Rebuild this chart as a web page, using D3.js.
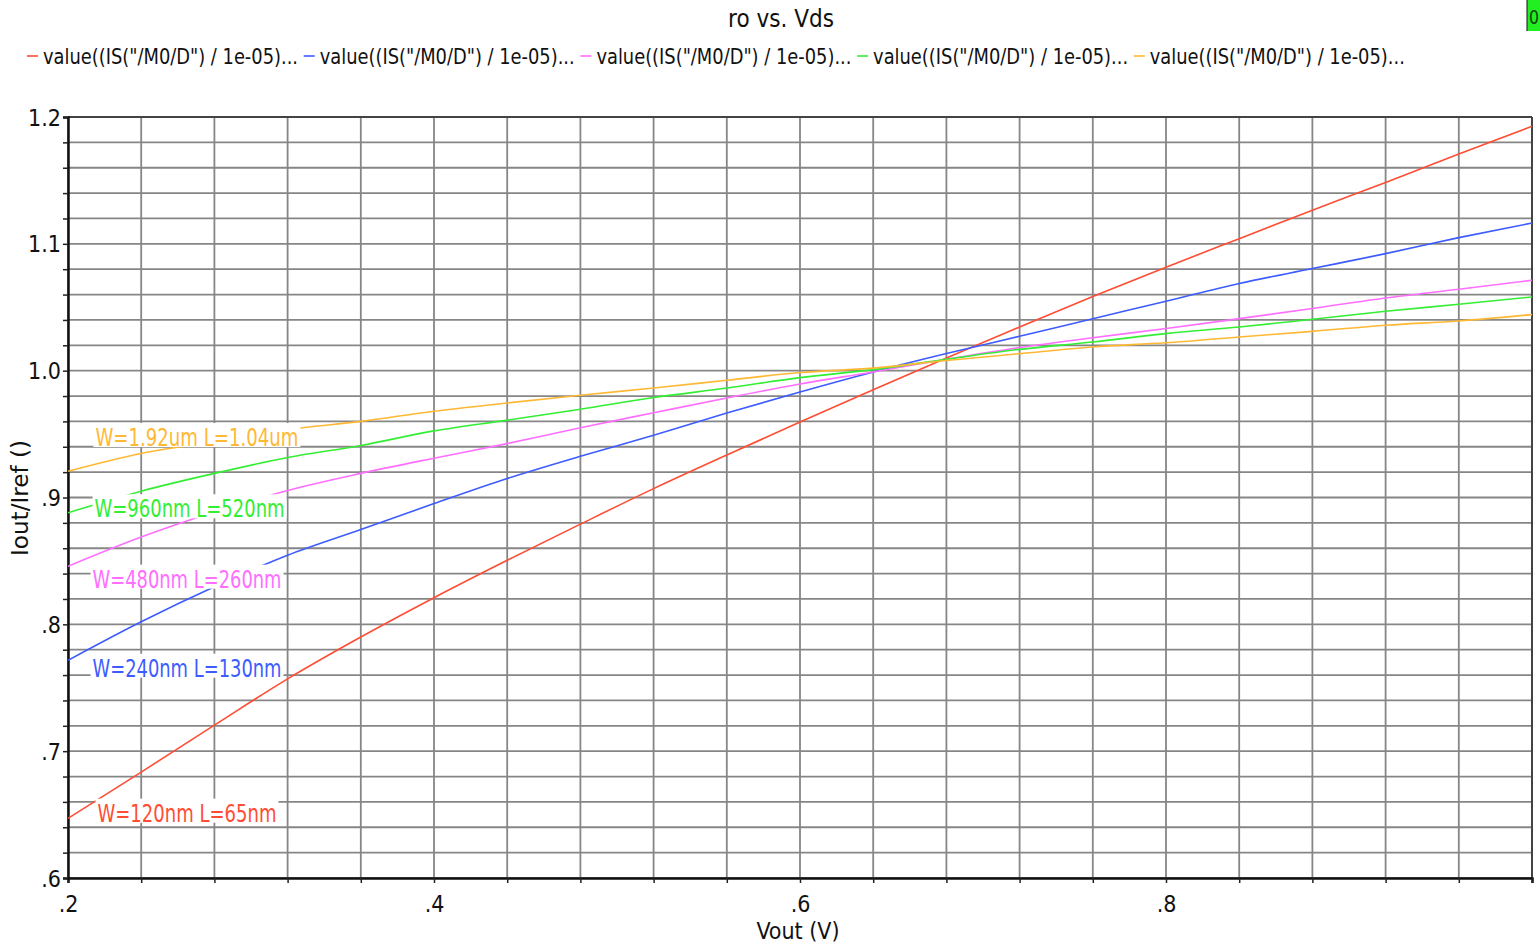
<!DOCTYPE html>
<html>
<head>
<meta charset="utf-8">
<script src="https://cdn.jsdelivr.net/npm/d3@7"></script>
<style>
  html, body { margin: 0; padding: 0; background: #fff; }
  svg { display: block; }
  text { font-family: "Liberation Sans Narrow", "DejaVu Sans Condensed", "Liberation Sans", sans-serif; }
</style>
</head>
<body>
<svg id="chart" width="1540" height="944"></svg>
<script>
// Output voltage sweep (V)
const vout = [0.20, 0.24, 0.28, 0.32, 0.36, 0.40, 0.44, 0.48, 0.52, 0.56, 0.60,
              0.64, 0.68, 0.72, 0.76, 0.80, 0.84, 0.88, 0.92, 0.96, 1.00];

// Iout/Iref for each device size
const ratioW120 = [0.647, 0.6835, 0.7205, 0.757, 0.790, 0.821, 0.8505, 0.879, 0.907, 0.9335, 0.9595,
                   0.985, 1.010, 1.0344, 1.0584, 1.0816, 1.1041, 1.1265, 1.1484, 1.1708, 1.1927];
const ratioW240 = [0.7716, 0.802, 0.8296, 0.8544, 0.8747, 0.8952, 0.915, 0.9325, 0.949, 0.9666, 0.9832,
                   0.999, 1.0135, 1.0271, 1.041, 1.0547, 1.0687, 1.0805, 1.0923, 1.1049, 1.1164];
const ratioW480 = [0.8458, 0.8688, 0.8885, 0.9055, 0.919, 0.931, 0.9425, 0.955, 0.9668, 0.9785, 0.9895,
                   0.999, 1.009, 1.0182, 1.026, 1.0332, 1.041, 1.049, 1.0573, 1.0642, 1.0713];
const ratioW960 = [0.888, 0.905, 0.919, 0.9315, 0.941, 0.9525, 0.961, 0.9696, 0.9788, 0.9863, 0.9945,
                   1.0008, 1.009, 1.0168, 1.0226, 1.0292, 1.0344, 1.0405, 1.0468, 1.0524, 1.0581];
const ratioW1920 = [0.9207, 0.9347, 0.944, 0.9535, 0.960, 0.968, 0.9745, 0.9806, 0.9863, 0.9924, 0.9985,
                    1.002, 1.008, 1.0134, 1.0187, 1.022, 1.0266, 1.031, 1.0358, 1.0392, 1.0442];

const seriesNames = ["W=120nm L=65nm", "W=240nm L=130nm", "W=480nm L=260nm", "W=960nm L=520nm", "W=1.92um L=1.04um"];
const seriesValues = [ratioW120, ratioW240, ratioW480, ratioW960, ratioW1920];
const seriesColors = ["#ff4d33", "#3d5cff", "#ff6eff", "#33ee33", "#ffb833"];
const legendText = "value((IS(\"/M0/D\") / 1e-05)...";

// In-plot label anchors (x in volts, y in Iout/Iref at the text baseline)
const labelX = [0.2161, 0.2134, 0.2134, 0.2145, 0.2150];
const labelY = [0.6444, 0.7587, 0.8289, 0.8844, 0.9406];

// Axis ticks
const xTickValues = [0.2, 0.4, 0.6, 0.8];
const xTickLabels = [".2", ".4", ".6", ".8"];
const yTickValues = [1.2, 1.1, 1.0, 0.9, 0.8, 0.7, 0.6];
const yTickLabels = ["1.2", "1.1", "1.0", ".9", ".8", ".7", ".6"];

const svg = d3.select("#chart");
const W = 1540, H = 944;
const plot = { left: 68, right: 1532, top: 117, bottom: 878 };

const x = d3.scaleLinear().domain([0.2, 1.0]).range([plot.left, plot.right]);
const y = d3.scaleLinear().domain([0.6, 1.2]).range([plot.bottom, plot.top]);

svg.append("rect").attr("width", W).attr("height", H).attr("fill", "#fff");

// Grid: vertical every 0.04 V, horizontal every 0.02
const xGrid = d3.range(0, 21).map(i => +(0.2 + i * 0.04).toFixed(2));
const yGrid = d3.range(0, 31).map(i => +(0.6 + i * 0.02).toFixed(2));

const grid = svg.append("g").attr("class", "grid");
grid.selectAll("line.v").data(xGrid).join("line")
  .attr("class", "v")
  .attr("x1", d => x(d)).attr("x2", d => x(d))
  .attr("y1", plot.top).attr("y2", plot.bottom)
  .attr("stroke", "#868686").attr("stroke-width", 1.8);
grid.selectAll("line.h").data(yGrid).join("line")
  .attr("class", "h")
  .attr("x1", plot.left).attr("x2", plot.right)
  .attr("y1", d => y(d)).attr("y2", d => y(d))
  .attr("stroke", "#868686").attr("stroke-width", 1.8);

// Frame
svg.append("line").attr("x1", plot.left).attr("x2", plot.right).attr("y1", plot.top).attr("y2", plot.top)
  .attr("stroke", "#444").attr("stroke-width", 2);
svg.append("line").attr("x1", plot.right).attr("x2", plot.right).attr("y1", plot.top).attr("y2", plot.bottom)
  .attr("stroke", "#444").attr("stroke-width", 2);

// Axes
const xAxis = d3.axisBottom(x)
  .tickValues(xGrid)
  .tickSize(5)
  .tickFormat(d => {
    const i = xTickValues.findIndex(v => Math.abs(v - d) < 1e-9);
    return i >= 0 ? xTickLabels[i] : "";
  });
const yAxis = d3.axisLeft(y)
  .tickValues(yGrid)
  .tickSize(5)
  .tickFormat(d => {
    const i = yTickValues.findIndex(v => Math.abs(v - d) < 1e-9);
    return i >= 0 ? yTickLabels[i] : "";
  });

const gx = svg.append("g").attr("transform", `translate(0,${plot.bottom})`).call(xAxis);
gx.select(".domain").attr("stroke", "#111").attr("stroke-width", 2.5);
gx.selectAll(".tick line").attr("stroke", "#222").attr("stroke-width", 1.5);
gx.selectAll(".tick text")
  .attr("font-family", "Liberation Sans Narrow, DejaVu Sans Condensed, sans-serif")
  .attr("font-size", 23).attr("fill", "#111").attr("dy", "0.95em").attr("y", 12);

const gy = svg.append("g").attr("transform", `translate(${plot.left},0)`).call(yAxis);
gy.select(".domain").attr("stroke", "#111").attr("stroke-width", 2.5);
gy.selectAll(".tick line").attr("stroke", "#222").attr("stroke-width", 1.5);
gy.selectAll(".tick text")
  .attr("font-family", "Liberation Sans Narrow, DejaVu Sans Condensed, sans-serif")
  .attr("font-size", 23).attr("fill", "#111").attr("x", -7).attr("dy", "0.35em");

// Curves
svg.append("clipPath").attr("id", "plotClip").append("rect")
  .attr("x", plot.left).attr("y", plot.top)
  .attr("width", plot.right - plot.left).attr("height", plot.bottom - plot.top);

const line = d3.line()
  .x((d, i) => x(vout[i]))
  .y(d => y(d))
  .curve(d3.curveMonotoneX);

svg.append("g").attr("clip-path", "url(#plotClip)")
  .selectAll("path").data(seriesValues).join("path")
  .attr("d", d => line(d))
  .attr("fill", "none")
  .attr("stroke", (d, i) => seriesColors[i])
  .attr("stroke-width", 1.6);

// In-plot curve labels on white boxes
const labelWidths = [179, 189, 189, 190, 203];
const labels = svg.append("g");
seriesNames.forEach((name, i) => {
  const tx = x(labelX[i]);
  const ty = y(labelY[i]);
  labels.append("rect")
    .attr("x", tx - 2).attr("y", ty - 23)
    .attr("width", labelWidths[i] + 4).attr("height", 24)
    .attr("fill", "#fff");
  labels.append("text")
    .attr("x", tx).attr("y", ty)
    .attr("font-size", 25)
    .attr("fill", seriesColors[i])
    .attr("textLength", labelWidths[i])
    .attr("lengthAdjust", "spacingAndGlyphs")
    .text(name);
});

// Legend
const legend = svg.append("g");
seriesNames.forEach((name, i) => {
  const lx = 27 + i * 276.7;
  legend.append("line")
    .attr("x1", lx).attr("x2", lx + 11)
    .attr("y1", 56).attr("y2", 56)
    .attr("stroke", seriesColors[i]).attr("stroke-width", 1.6);
  legend.append("text")
    .attr("x", lx + 16).attr("y", 64)
    .attr("font-size", 21).attr("fill", "#111")
    .attr("textLength", 255)
    .attr("lengthAdjust", "spacingAndGlyphs")
    .text(legendText);
});

// Title
svg.append("text")
  .attr("x", 781).attr("y", 27)
  .attr("text-anchor", "middle")
  .attr("font-size", 24).attr("fill", "#111")
  .text("ro vs. Vds");

// Axis titles
svg.append("text")
  .attr("x", 798).attr("y", 939)
  .attr("text-anchor", "middle")
  .attr("font-size", 23).attr("fill", "#111")
  .text("Vout (V)");

svg.append("text")
  .attr("transform", "translate(28,498) rotate(-90)")
  .attr("text-anchor", "middle")
  .attr("font-size", 23).attr("fill", "#111")
  .attr("textLength", 116)
  .attr("lengthAdjust", "spacingAndGlyphs")
  .text("Iout/Iref ()");

// Status box in the top-right corner
svg.append("rect").attr("x", 1527).attr("y", 0).attr("width", 13).attr("height", 31).attr("fill", "#22ee22");
svg.append("line").attr("x1", 1527).attr("x2", 1527).attr("y1", 0).attr("y2", 31)
  .attr("stroke", "#111").attr("stroke-width", 1);
svg.append("text").attr("x", 1529).attr("y", 24)
  .attr("font-size", 19).attr("fill", "#114411")
  .attr("textLength", 10).attr("lengthAdjust", "spacingAndGlyphs")
  .text("0");
</script>
</body>
</html>
